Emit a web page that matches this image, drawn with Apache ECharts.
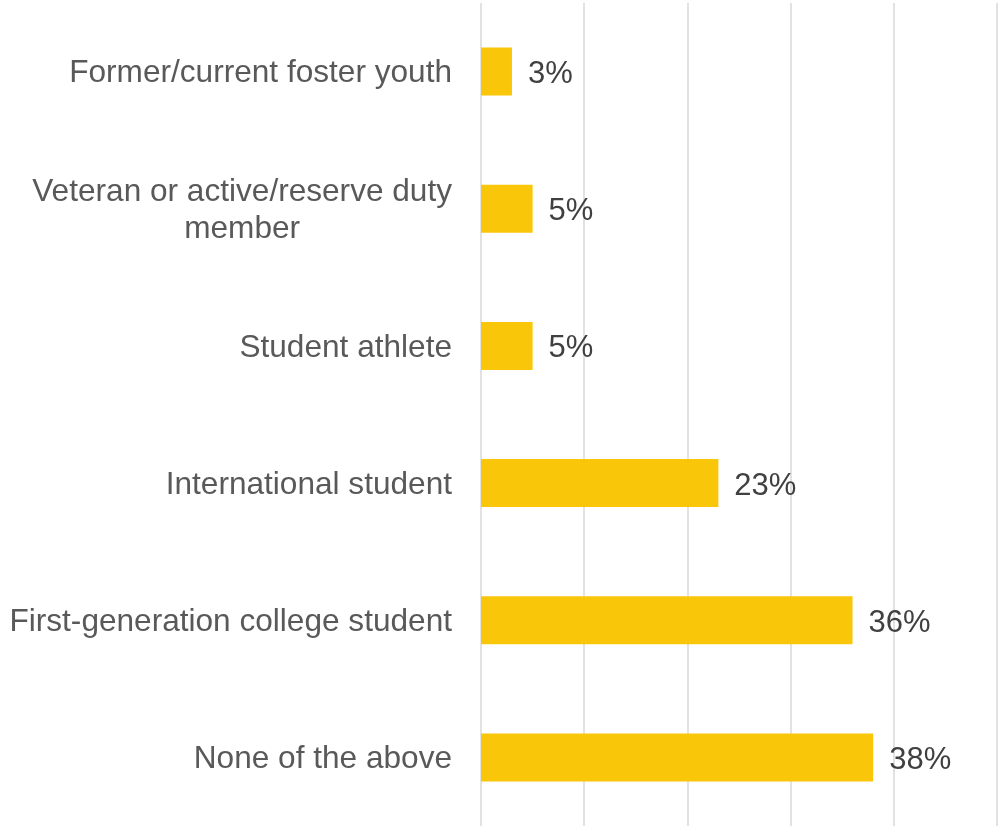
<!DOCTYPE html>
<html>
<head>
<meta charset="utf-8">
<script src="https://cdn.jsdelivr.net/npm/echarts@6/dist/echarts.min.js"></script>
<style>
  html, body { margin: 0; padding: 0; background: #ffffff; }
  #chart { width: 999px; height: 826px; }
</style>
</head>
<body>
<div id="chart"></div>
<script>
// Student groups, listed top to bottom
const categories = [
  'Former/current foster youth',
  'Veteran or active/reserve duty\nmember',
  'Student athlete',
  'International student',
  'First-generation college student',
  'None of the above'
];
// Share of respondents in each group (%)
const shares = [3, 5, 5, 23, 36, 38];
// Value axis range and step (%)
const axisMin = 0;
const axisMax = 50;
const axisStep = 10;

const labelFont = 'Liberation Sans, Arial, sans-serif';
const catSize = 31.6;
const chart = echarts.init(document.getElementById('chart'));

chart.setOption({
  animation: false,
  backgroundColor: '#ffffff',
  grid: { left: 481, right: 2, top: 3, bottom: 0, containLabel: false },
  xAxis: {
    type: 'value',
    min: axisMin,
    max: axisMax,
    interval: axisStep,
    axisLabel: { show: false },
    axisLine: { show: false },
    axisTick: { show: false },
    splitLine: { show: true, lineStyle: { color: '#d9d9d9', width: 1.5 } }
  },
  yAxis: {
    type: 'category',
    inverse: true,
    data: categories,
    axisLine: { show: false },
    axisTick: { show: false },
    axisLabel: {
      margin: 29,
      color: '#595959',
      fontFamily: labelFont,
      fontSize: catSize,
      lineHeight: 37,
      padding: [4, 0, 0, 0],
      align: 'right',
      // wrapped labels: later lines are centred under the first line
      formatter: function (v) {
        const lines = v.split('\n');
        if (lines.length === 1) return v;
        return '{a|' + lines[0] + '}' + lines.slice(1).map(function (l) {
          return '\n{c|' + l + '}';
        }).join('');
      },
      rich: {
        a: { color: '#595959', fontFamily: labelFont, fontSize: catSize, lineHeight: 37, align: 'right' },
        c: { color: '#595959', fontFamily: labelFont, fontSize: catSize, lineHeight: 37, align: 'center' }
      }
    }
  },
  series: [{
    type: 'bar',
    data: shares,
    barWidth: 48,
    itemStyle: { color: '#f9c609' },
    label: {
      show: true,
      position: 'right',
      distance: 16,
      offset: [0, 3],
      color: '#404040',
      fontFamily: labelFont,
      fontSize: 31,
      formatter: '{c}%'
    }
  }]
});
</script>
</body>
</html>
